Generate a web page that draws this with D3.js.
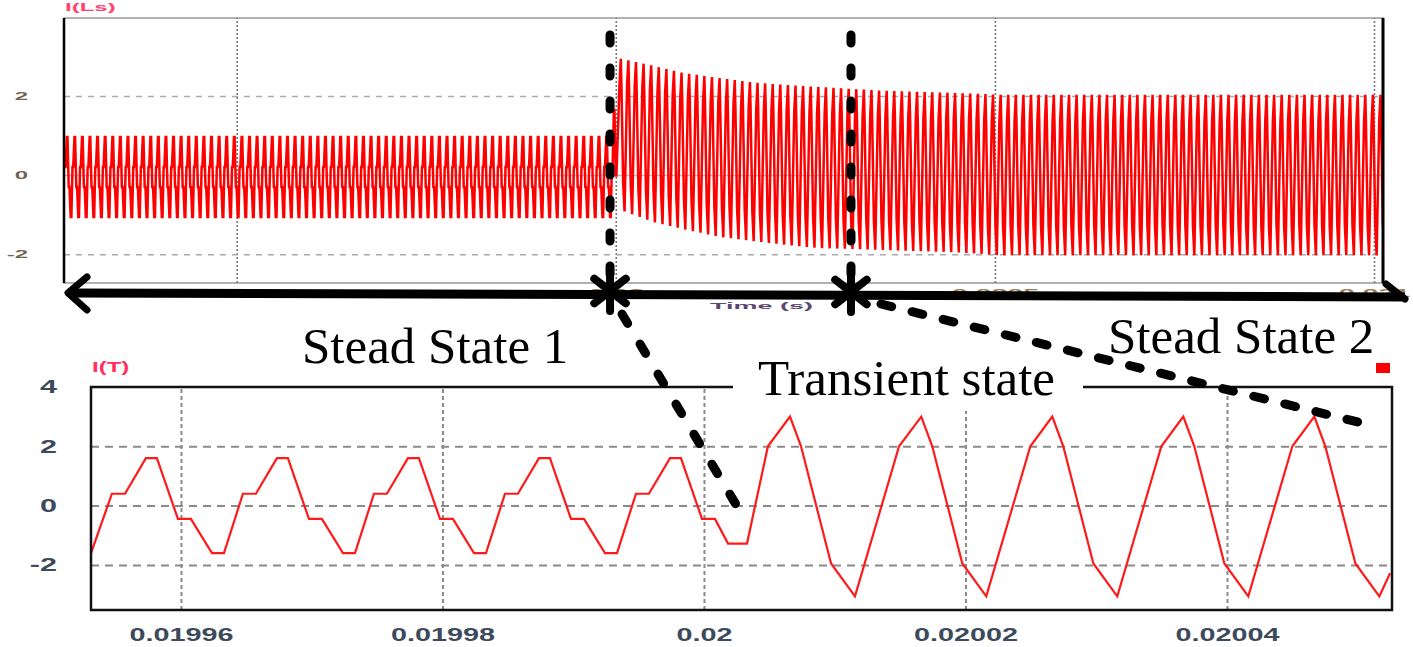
<!DOCTYPE html>
<html>
<head>
<meta charset="utf-8">
<script src="https://cdn.jsdelivr.net/npm/d3@7/dist/d3.min.js"></script>
<style>
  body { margin: 0; background: #fff; }
  .note { font-family: "Liberation Serif", "Times New Roman", serif; font-size: 51px; fill: #000; }
  .lbl { font-family: "Liberation Sans", Arial, sans-serif; font-weight: bold; }
</style>
</head>
<body>
<svg id="chart" width="1413" height="647"></svg>
<script>
// time is in microseconds everywhere, tick labels give it back in seconds

// top plot I(Ls): envelope of the switching ripple
const envTime   = [19272, 19995, 20002, 20045, 20089, 20134, 20177, 20221, 20265, 20309, 20353, 20441, 20507, 21012];
const envTop    = [0.96, 0.96, 2.96, 2.78, 2.58, 2.46, 2.35, 2.28, 2.23, 2.18, 2.13, 2.08, 2.03, 2.03];
const envBottom = [-1.06, -1.06, -0.89, -1.19, -1.39, -1.57, -1.67, -1.77, -1.85, -1.87, -1.90, -1.95, -2.03, -2.03];

// one switching period (us) and its shape before / after the step, taken from the lower plot
const period = 10.02;
const cycle1Start = 19957.32;
const cycle1Phase = [0, 0.084, 0.245, 0.343, 0.504, 0.596, 0.741, 0.839];
const cycle1Level = [1, 1, -0.25, -0.25, -1, -1, 0.25, 0.25];
const switchTime = 20001.84;
const cycle2Start = 20006.58;
const cycle2Phase = [0, 0.084, 0.313, 0.496, 0.832];
const cycle2Level = [1, 0.67, -0.63, -1, 0.67];

// lower plot I(T), zoomed trace
const lowerTime = [
  19953.12, 19954.72, 19955.72,
  19957.32, 19958.16, 19959.77, 19960.76, 19962.37, 19963.29, 19964.74, 19965.73,
  19967.34, 19968.18, 19969.79, 19970.78, 19972.39, 19973.31, 19974.76, 19975.75,
  19977.36, 19978.20, 19979.81, 19980.80, 19982.41, 19983.33, 19984.78, 19985.77,
  19987.38, 19988.22, 19989.83, 19990.82, 19992.43, 19993.35, 19994.80, 19995.79,
  19997.40, 19998.24, 19999.85, 20000.84, 20001.84, 20003.29, 20004.89,
  20006.58, 20007.42, 20009.72, 20011.55, 20014.92,
  20016.62, 20017.46, 20019.76, 20021.59, 20024.96,
  20026.64, 20027.48, 20029.78, 20031.61, 20034.98,
  20036.66, 20037.50, 20039.80, 20041.63, 20045.00,
  20046.68, 20047.52, 20049.82, 20051.65, 20052.47
];
const lowerValue = [
  -1.6, 0.4, 0.4,
  1.6, 1.6, -0.45, -0.45, -1.6, -1.6, 0.4, 0.4,
  1.6, 1.6, -0.45, -0.45, -1.6, -1.6, 0.4, 0.4,
  1.6, 1.6, -0.45, -0.45, -1.6, -1.6, 0.4, 0.4,
  1.6, 1.6, -0.45, -0.45, -1.6, -1.6, 0.4, 0.4,
  1.6, 1.6, -0.45, -0.45, -1.28, -1.28, 2.0,
  3.0, 2.0, -1.95, -3.06, 2.0,
  3.0, 2.0, -1.95, -3.06, 2.0,
  3.0, 2.0, -1.95, -3.06, 2.0,
  3.0, 2.0, -1.95, -3.06, 2.0,
  3.0, 2.0, -1.95, -3.06, -2.28
];

const upperTicks = [19500, 20000, 20500, 21000];
const upperTickLabels = ["0.0195", "0.02", "0.0205", "0.021"];
const upperYTicks = [-2, 0, 2];
const lowerTicks = [19960, 19980, 20000, 20020, 20040];
const lowerTickLabels = ["0.01996", "0.01998", "0.02", "0.02002", "0.02004"];
const lowerYTicks = [-2, 0, 2, 4];

// annotation anchors (times in us)
const stateMarks = [19992.4, 20310.2];
const transientEnd = {t: 20002.5, v: 0};
const steady2End = {t: 20050.0, v: 2.82};
const noteText = ["Stead State 1", "Transient state", "Stead State 2"];

const svg = d3.select("#chart");
svg.append("rect").attr("width", 1413).attr("height", 647).attr("fill", "#fff");

// ---------------- top plot ----------------
const U = {l: 64, r: 1383, t: 18, b: 283};
const xU = d3.scaleLinear().domain([19272.2, 21011.9]).range([U.l, U.r]);
const yU = d3.scaleLinear().domain([-2.73, 3.97]).range([U.b, U.t]);

svg.append("rect").attr("x", U.l).attr("y", U.t).attr("width", U.r - U.l).attr("height", U.b - U.t)
  .attr("fill", "none").attr("stroke", "#999").attr("stroke-width", 1.5);

svg.append("g").attr("transform", "translate(0," + U.b + ")")
  .call(d3.axisBottom(xU).tickValues(upperTicks).tickSize(-(U.b - U.t)).tickFormat(""))
  .call(g => g.select(".domain").remove())
  .call(g => g.selectAll("line").attr("stroke", "#777").attr("stroke-width", 1.6).attr("stroke-dasharray", "2,2"));

svg.append("g").attr("transform", "translate(" + U.l + ",0)")
  .call(d3.axisLeft(yU).tickValues(upperYTicks).tickSize(-(U.r - U.l)).tickFormat(""))
  .call(g => g.select(".domain").remove())
  .call(g => g.selectAll("line")
    .attr("stroke", d => d === 0 ? "#bbb" : "#aaa")
    .attr("stroke-width", 1.5)
    .attr("stroke-dasharray", d => d === 0 ? null : "6,6"));

// build the ripple from the measured cycle and envelope
const topAt = d3.scaleLinear().domain(envTime).range(envTop).clamp(true);
const botAt = d3.scaleLinear().domain(envTime).range(envBottom).clamp(true);
const [t0, t1] = xU.domain();
const upperPts = [];
function pushCycle(start, phases, levels, lo, hi, envT) {
  const top = topAt(envT), bot = botAt(envT);
  const mid = (top + bot) / 2, half = (top - bot) / 2;
  phases.forEach((p, i) => {
    const t = start + p * period;
    if (t >= lo && t <= hi) upperPts.push({t: t, v: mid + levels[i] * half});
  });
}
let s = cycle1Start - Math.ceil((cycle1Start - t0) / period) * period;
for (; s < switchTime; s += period) pushCycle(s, cycle1Phase, cycle1Level, t0, switchTime, s);
for (s = cycle2Start - period; s < t1; s += period) pushCycle(s, cycle2Phase, cycle2Level, switchTime, t1, Math.max(s, switchTime));

svg.append("clipPath").attr("id", "clipU").append("rect")
  .attr("x", U.l).attr("y", U.t).attr("width", U.r - U.l).attr("height", U.b - U.t);
svg.append("path").datum(upperPts)
  .attr("clip-path", "url(#clipU)")
  .attr("fill", "none").attr("stroke", "#ff0000").attr("stroke-width", 2.5)
  .attr("d", d3.line().x(d => xU(d.t)).y(d => yU(d.v)));

svg.append("line").attr("x1", U.l).attr("x2", U.l).attr("y1", U.t).attr("y2", U.b).attr("stroke", "#000").attr("stroke-width", 2.5);
svg.append("line").attr("x1", U.r).attr("x2", U.r).attr("y1", U.t).attr("y2", U.b).attr("stroke", "#000").attr("stroke-width", 3);

svg.append("g").attr("class", "lbl").attr("transform", "translate(" + U.l + ",0)")
  .call(d3.axisLeft(yU).tickValues(upperYTicks).tickSize(0).tickPadding(15).tickFormat(d => String(d)))
  .call(g => g.select(".domain").remove())
  .call(g => g.selectAll("text").attr("font-size", 10).attr("fill", "#6e6652").attr("transform", "scale(2.4,1)"));

svg.append("g").attr("class", "lbl").attr("transform", "translate(0," + U.b + ")")
  .call(d3.axisBottom(xU).tickValues(upperTicks).tickSize(0).tickPadding(6).tickFormat((d, i) => upperTickLabels[i]))
  .call(g => g.select(".domain").remove())
  .call(g => g.selectAll("text").attr("font-size", 11).attr("fill", "#9a8060").attr("transform", "scale(2.6,1)"));

svg.append("text").attr("class", "lbl").attr("transform", "translate(" + ((U.l + U.r) / 2 + 38) + ",309) scale(3,1)")
  .attr("text-anchor", "middle").attr("font-size", 9).attr("fill", "#5a4870").text("Time (s)");
svg.append("text").attr("class", "lbl").attr("transform", "translate(" + (U.l + 1) + ",11) scale(2.4,1)")
  .attr("font-size", 10).attr("fill", "#ff4070").text("I(Ls)");

// ---------------- lower plot ----------------
const L = {l: 91, r: 1392, t: 387, b: 610};
const xL = d3.scaleLinear().domain([19953.12, 20052.62]).range([L.l, L.r]);
const yL = d3.scaleLinear().domain([-3.52, 4]).range([L.b, L.t]);

svg.append("g").attr("transform", "translate(0," + L.b + ")")
  .call(d3.axisBottom(xL).tickValues(lowerTicks).tickSize(-(L.b - L.t)).tickFormat(""))
  .call(g => g.select(".domain").remove())
  .call(g => g.selectAll("line").attr("stroke", "#8a8a8a").attr("stroke-width", 2).attr("stroke-dasharray", "4,3"));

svg.append("g").attr("transform", "translate(" + L.l + ",0)")
  .call(d3.axisLeft(yL).tickValues(lowerYTicks.filter(d => d < 4)).tickSize(-(L.r - L.l)).tickFormat(""))
  .call(g => g.select(".domain").remove())
  .call(g => g.selectAll("line").attr("stroke", "#8a8a8a").attr("stroke-width", 2).attr("stroke-dasharray", "8,6"));

svg.append("path").datum(lowerTime.map((t, i) => ({t: t, v: lowerValue[i]})))
  .attr("fill", "none").attr("stroke", "#ff1a1a").attr("stroke-width", 2.2)
  .attr("d", d3.line().x(d => xL(d.t)).y(d => yL(d.v)));

svg.append("rect").attr("x", L.l).attr("y", L.t).attr("width", L.r - L.l).attr("height", L.b - L.t)
  .attr("fill", "none").attr("stroke", "#111").attr("stroke-width", 2.5);

svg.append("g").attr("class", "lbl").attr("transform", "translate(" + L.l + ",0)")
  .call(d3.axisLeft(yL).tickValues(lowerYTicks).tickSize(0).tickPadding(20).tickFormat(d => String(d)))
  .call(g => g.select(".domain").remove())
  .call(g => g.selectAll("text").attr("font-size", 18).attr("fill", "#3c4a5c").attr("transform", "scale(1.7,1)"));

svg.append("g").attr("class", "lbl").attr("transform", "translate(0," + L.b + ")")
  .call(d3.axisBottom(xL).tickValues(lowerTicks).tickSize(0).tickPadding(18).tickFormat((d, i) => lowerTickLabels[i]))
  .call(g => g.select(".domain").remove())
  .call(g => g.selectAll("text").attr("font-size", 18).attr("fill", "#3c4a5c").attr("transform", "scale(1.6,1)"));

svg.append("text").attr("class", "lbl").attr("transform", "translate(" + (L.l + 1) + ",372) scale(1.6,1)")
  .attr("font-size", 15).attr("fill", "#ff3060").text("I(T)");
svg.append("rect").attr("x", 1376).attr("y", 363).attr("width", 14).attr("height", 10).attr("fill", "#ff0000");

// ---------------- annotations ----------------
svg.append("rect").attr("x", 733).attr("y", 352).attr("width", 350).attr("height", 59).attr("fill", "#fff");
svg.append("text").attr("class", "note").attr("x", 758).attr("y", 395).text(noteText[1]);
svg.append("text").attr("class", "note").attr("x", 302).attr("y", 363).text(noteText[0]);
svg.append("text").attr("class", "note").attr("x", 1108).attr("y", 353).text(noteText[2]);

const ann = svg.append("g").attr("stroke", "#000").attr("fill", "none").attr("stroke-linecap", "round");

// double arrow under the top plot
ann.append("line").attr("x1", U.l + 4).attr("y1", 293).attr("x2", 1405).attr("y2", 297)
  .attr("stroke-width", 9).attr("stroke-linecap", "butt");
ann.append("polyline").attr("points", (U.l + 23) + ",277 " + (U.l + 4) + ",293 " + (U.l + 23) + ",310")
  .attr("stroke-width", 7).attr("stroke-linejoin", "round");
ann.append("line").attr("x1", 1386).attr("y1", 284).attr("x2", 1405).attr("y2", 299).attr("stroke-width", 7);

// dashed state boundaries and their star marks
stateMarks.forEach((t, i) => {
  const x = xU(t);
  ann.append("line").attr("x1", x).attr("x2", x).attr("y1", 35).attr("y2", 285)
    .attr("stroke-width", 9).attr("stroke-dasharray", "8,25");
  const cy = 291 + i;
  [90, 38, -38].forEach(a => {
    const r = a * Math.PI / 180;
    const dx = 20 * Math.cos(r), dy = 20 * Math.sin(r);
    ann.append("line").attr("x1", x - dx).attr("y1", cy - dy).attr("x2", x + dx).attr("y2", cy + dy)
      .attr("stroke-width", 8);
  });
});

// dashed leaders down into the zoomed plot
ann.append("line").attr("x1", xU(stateMarks[0]) + 12).attr("y1", 314)
  .attr("x2", xL(transientEnd.t)).attr("y2", yL(transientEnd.v))
  .attr("stroke-width", 9).attr("stroke-dasharray", "11,24");
ann.append("line").attr("x1", xU(stateMarks[1]) + 30).attr("y1", 304)
  .attr("x2", xL(steady2End.t)).attr("y2", yL(steady2End.v))
  .attr("stroke-width", 9).attr("stroke-dasharray", "11,21");
</script>
</body>
</html>
